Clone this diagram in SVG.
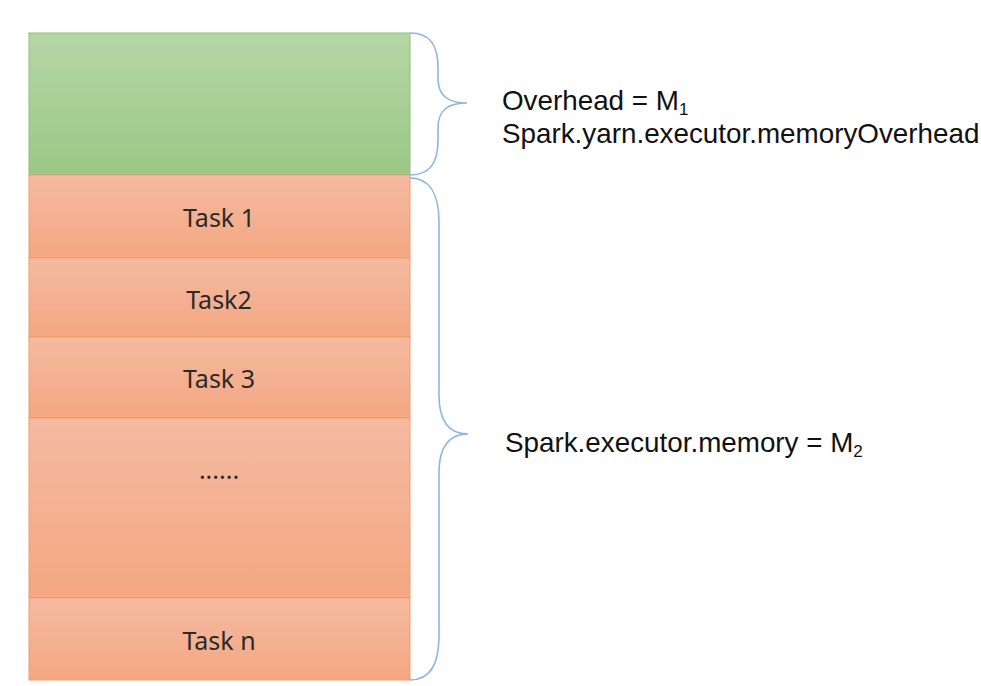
<svg xmlns="http://www.w3.org/2000/svg" width="981" height="686" viewBox="0 0 981 686">
<defs>
<linearGradient id="gGreen" x1="0" y1="0" x2="0" y2="1"><stop offset="0" stop-color="#b6d6a6"/><stop offset="1" stop-color="#9bc886"/></linearGradient>
<linearGradient id="gOrange" x1="0" y1="0" x2="0" y2="1"><stop offset="0" stop-color="#f5baa1"/><stop offset="1" stop-color="#f4a782"/></linearGradient>
<style>
.orange{fill:url(#gOrange);stroke:#f29a6c;stroke-width:1}
.green{fill:url(#gGreen);stroke:#8fbf72;stroke-width:1}
.task{font-family:"Noto Sans","Liberation Sans",sans-serif;font-size:25px;fill:#2a2a2a;text-anchor:middle}
.lbl{font-family:"Liberation Sans",Arial,sans-serif;font-size:27.8px;fill:#111}
.brace{fill:none;stroke:#8cb6e4;stroke-width:1.6}
</style>
</defs>
<g id="overhead"><rect class="green" x="29" y="33" width="381" height="142"/></g>
<g id="task1"><rect class="orange" x="29" y="175" width="381" height="83"/><text class="task" x="219" y="227">Task 1</text></g>
<g id="task2"><rect class="orange" x="29" y="258" width="381" height="79"/><text class="task" x="219" y="309">Task2</text></g>
<g id="task3"><rect class="orange" x="29" y="337" width="381" height="81"/><text class="task" x="219" y="388">Task 3</text></g>
<g id="taskdots"><rect class="orange" x="29" y="418" width="381" height="180"/><text class="task" x="219" y="479">......</text></g>
<g id="taskn"><rect class="orange" x="29" y="598" width="381" height="82"/><text class="task" x="219" y="650">Task n</text></g>
<g id="connectors">
<path class="brace" d="M410,33 C430,33 438,45 438,68 L438,78 C438,96 448,103 467,103 C448,103 438,110 438,128 L438,140 C438,163 430,175 410,175"/>
<path class="brace" d="M410,178 C430,178 439,195 439,222 L439,395 C439,420 448,434 468,434 C448,434 439,448 439,473 L439,636 C439,665 430,680 410,680"/>
</g>
<g id="labels">
<text class="lbl" x="502" y="110">Overhead = M<tspan font-size="17" dy="5">1</tspan></text>
<text class="lbl" x="502" y="143">Spark.yarn.executor.memoryOverhead</text>
<text class="lbl" x="505" y="452">Spark.executor.memory = M<tspan font-size="17" dy="5">2</tspan></text>
</g>
</svg>
